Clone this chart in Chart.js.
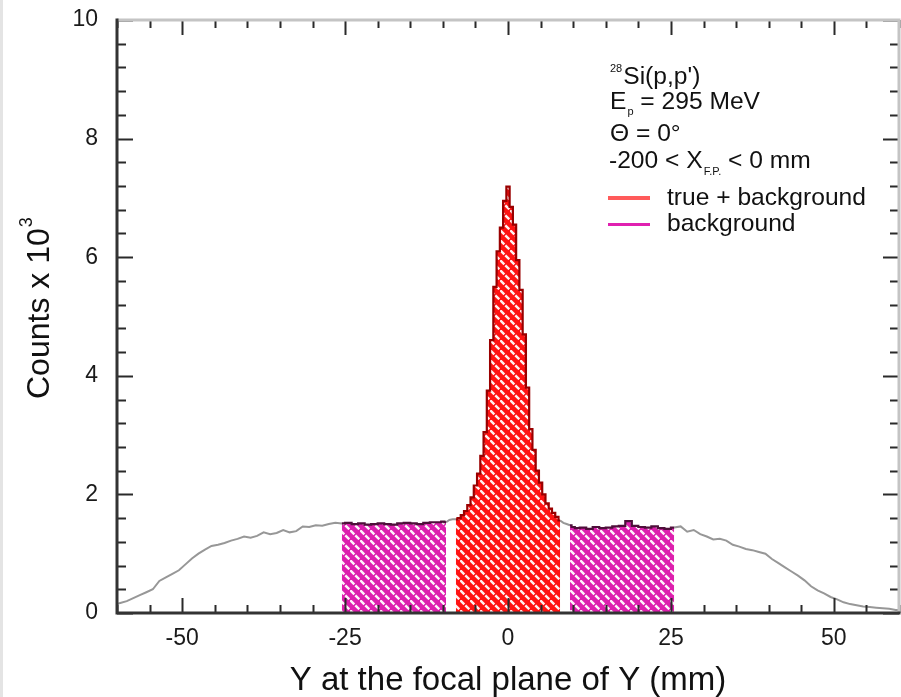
<!DOCTYPE html>
<html>
<head>
<meta charset="utf-8">
<script src="https://cdn.jsdelivr.net/npm/chart.js@4.4.1/dist/chart.umd.min.js"></script>
<style>
html,body{margin:0;padding:0;background:#fff;}
canvas{display:block;}
</style>
</head>
<body>
<canvas id="c" width="901" height="697"></canvas>
<script>
// ---- data (counts in units of 10^3) ----
const leftWingY = [-60,-59.5,-58.5,-57.5,-56.5,-55.5,-54.5,-53.5,-52.5,-51.5,-50.5,-49.5,-48.5,-47.5,-46.5,-45.5,-44.5,-43.5,-42.5,-41.5,-40.5,-39.5,-38.5,-37.5,-36.5,-35.5,-34.5,-33.5,-32.5,-31.5,-30.5,-29.5,-28.5,-27.5,-26.5,-25.5,-24.5,-23.5,-22.5,-21.5,-20.5,-19.5,-18.5,-17.5,-16.5,-15.5,-14.5,-13.5,-12.5,-11.5,-10.5];
const leftWingCounts = [0.15,0.17,0.20,0.25,0.30,0.35,0.40,0.54,0.60,0.66,0.72,0.82,0.92,1.00,1.07,1.13,1.15,1.18,1.22,1.25,1.29,1.27,1.30,1.36,1.33,1.35,1.40,1.36,1.38,1.46,1.45,1.48,1.47,1.50,1.52,1.51,1.52,1.50,1.51,1.49,1.50,1.51,1.50,1.49,1.51,1.52,1.51,1.50,1.52,1.53,1.53];
const coreY = [-10,-9.5,-9,-8.5,-8,-7.5,-7,-6.5,-6,-5.5,-5,-4.5,-4,-3.5,-3,-2.5,-2,-1.5,-1,-0.5,0,0.5,1,1.5,2,2.5,3,3.5,4,4.5,5,5.5,6,6.5,7,7.5,8,8.5,9,9.5,10];
const coreCounts = [1.54,1.53,1.57,1.58,1.58,1.60,1.65,1.72,1.82,1.95,2.15,2.35,2.65,3.05,3.75,4.6,5.5,6.1,6.5,6.95,7.19,6.85,6.55,5.95,5.45,4.7,3.8,3.1,2.75,2.4,2.2,2.0,1.85,1.76,1.69,1.62,1.56,1.52,1.50,1.48,1.45];
const rightWingY = [10.5,11.5,12.5,13.5,14.5,15.5,16.5,17.5,18.5,19.5,20.5,21.5,22.5,23.5,24.5,25.5,26.5,27.5,28.5,29.5,30.5,31.5,32.5,33.5,34.5,35.5,36.5,37.5,38.5,39.5,40.5,41.5,42.5,43.5,44.5,45.5,46.5,47.5,48.5,49.5,50.5,51.5,52.5,53.5,54.5,55.5,56.5,57.5,58.5,59.5,60];
const rightWingCounts = [1.43,1.44,1.42,1.45,1.43,1.44,1.46,1.47,1.55,1.47,1.45,1.44,1.46,1.43,1.42,1.44,1.46,1.37,1.40,1.33,1.29,1.24,1.25,1.22,1.15,1.12,1.08,1.06,1.03,1.00,0.91,0.84,0.77,0.70,0.63,0.55,0.45,0.38,0.33,0.27,0.23,0.18,0.15,0.13,0.11,0.10,0.09,0.08,0.07,0.05,0.05];

const bgLeftRange = [-25.5, -9.5];
const peakRange = [-8, 8];
const bgRightRange = [9.5, 25.5];

const xTickValues = [-50, -25, 0, 25, 50];
const yTickValues = [0, 2, 4, 6, 8, 10];
const xMinorStep = 5;
const yMinorStep = 0.4;

const xTitle = 'Y at the focal plane of Y (mm)';
const yTitle = 'Counts x 10';
const yTitleSup = '3';
const legendLabels = ['true + background', 'background'];

// ---- build ----
const FONT = '"Liberation Sans", Arial, Helvetica, sans-serif';
const allY = leftWingY.concat(coreY, rightWingY);
const allC = leftWingCounts.concat(coreCounts, rightWingCounts);
const spectrum = allY.map((y, i) => ({x: y, y: allC[i]}));
const filledRanges = [bgLeftRange, peakRange, bgRightRange];
function inRange(v, r) { return v >= r[0] - 1e-9 && v <= r[1] + 1e-9; }
function slice(r) { return spectrum.filter(p => inRange(p.x, r)); }

function makePattern(base) {
  const c = document.createElement('canvas');
  c.width = 10; c.height = 10;
  const g = c.getContext('2d');
  g.fillStyle = base; g.fillRect(0, 0, 10, 10);
  g.strokeStyle = 'rgba(255,255,255,0.95)';
  g.lineWidth = 2.4;
  g.lineCap = 'butt';
  g.beginPath();
  g.moveTo(0.3, 0.3); g.lineTo(4.3, 4.3);
  g.moveTo(5.3, 5.3); g.lineTo(9.3, 9.3);
  g.stroke();
  return g.createPattern(c, 'repeat');
}
const ctx0 = document.getElementById('c').getContext('2d');
const redPattern = makePattern('#ff1414');
const pinkPattern = makePattern('#dd1fae');

const framePlugin = {
  id: 'frame',
  beforeDraw(chart) {
    const c = chart.ctx;
    c.save();
    c.fillStyle = '#e4e4e4';
    c.fillRect(0, 0, 3, chart.height);
    c.restore();
  },
  afterDraw(chart) {
    const c = chart.ctx;
    const {left, right, top, bottom} = chart.chartArea;
    const xs = chart.scales.x, ys = chart.scales.y;
    c.save();
    c.strokeStyle = '#2a2a2a';
    c.lineWidth = 2;
    const nx = Math.round((xs.max - xs.min) / xMinorStep);
    for (let i = 0; i <= nx; i++) {
      const v = xs.min + i * xMinorStep;
      const px = Math.round(xs.getPixelForValue(v)) + 0.5;
      const major = xTickValues.some(t => Math.abs(t - v) < 1e-6);
      const len = major ? 15 : 8;
      c.beginPath();
      c.moveTo(px, bottom); c.lineTo(px, bottom - len);
      c.moveTo(px, top); c.lineTo(px, top + len);
      c.stroke();
    }
    const ny = Math.round((ys.max - ys.min) / yMinorStep);
    for (let i = 0; i <= ny; i++) {
      const v = ys.min + i * yMinorStep;
      const py = Math.round(ys.getPixelForValue(v)) + 0.5;
      const major = yTickValues.some(t => Math.abs(t - v) < 1e-6);
      const len = major ? 16 : 9;
      c.beginPath();
      c.moveTo(left, py); c.lineTo(left + len, py);
      c.moveTo(right, py); c.lineTo(right - len, py);
      c.stroke();
    }
    c.lineWidth = 3;
    c.strokeStyle = '#c4c4c4';
    c.beginPath(); c.moveTo(left, top); c.lineTo(right, top); c.lineTo(right, bottom); c.stroke();
    c.strokeStyle = '#333';
    c.beginPath(); c.moveTo(left, top - 1.5); c.lineTo(left, bottom); c.lineTo(right + 1.5, bottom); c.stroke();

    // y title (rotated, with superscript)
    c.fillStyle = '#111';
    c.save();
    c.translate(49, 399);
    c.rotate(-Math.PI / 2);
    c.font = '32px ' + FONT;
    c.textBaseline = 'alphabetic';
    c.fillText(yTitle, 0, 0);
    const w = c.measureText(yTitle).width;
    c.font = '18px ' + FONT;
    c.fillText(yTitleSup, w + 1, -17);
    c.restore();

    // annotation block
    const x0 = 610;
    c.textBaseline = 'alphabetic';
    const big = '24.6px ' + FONT, small = '11px ' + FONT;
    let x;
    c.font = small; c.fillText('28', x0, 72);
    x = x0 + c.measureText('28').width + 1;
    c.font = big; c.fillText("Si(p,p')", x, 84);
    c.font = big; c.fillText('E', x0, 109);
    x = x0 + c.measureText('E').width + 1;
    c.font = small; c.fillText('p', x, 115);
    x += c.measureText('p').width;
    c.font = big; c.fillText(' = 295 MeV', x, 109);
    c.fillText('\u0398 = 0\u00b0', x0, 141);
    c.fillText('-200 < X', x0 - 1, 168);
    x = x0 - 1 + c.measureText('-200 < X').width + 1;
    c.font = small; c.fillText('F.P.', x, 175);
    x += c.measureText('F.P.').width;
    c.font = big; c.fillText(' < 0 mm', x, 168);
    c.lineWidth = 4; c.strokeStyle = '#ff5a5a';
    c.beginPath(); c.moveTo(608, 198); c.lineTo(650, 198); c.stroke();
    c.lineWidth = 3; c.strokeStyle = '#e020b0';
    c.beginPath(); c.moveTo(608, 224.5); c.lineTo(650, 224.5); c.stroke();
    c.font = big;
    c.fillText(legendLabels[0], 667, 205);
    c.fillText(legendLabels[1], 667, 231);
    c.restore();
  }
};

const GRAY = '#979797';
new Chart(ctx0, {
  type: 'line',
  data: {
    datasets: [
      {label: legendLabels[0], data: slice(peakRange), stepped: 'middle', borderColor: '#9a0000', borderWidth: 2.2, backgroundColor: redPattern, fill: 'origin', pointRadius: 0},
      {label: legendLabels[1], data: slice(bgLeftRange), stepped: 'middle', borderColor: '#4e0f3a', borderWidth: 2.2, backgroundColor: pinkPattern, fill: 'origin', pointRadius: 0},
      {label: legendLabels[1], data: slice(bgRightRange), stepped: 'middle', borderColor: '#4e0f3a', borderWidth: 2.2, backgroundColor: pinkPattern, fill: 'origin', pointRadius: 0},
      {label: 'spectrum', data: spectrum, stepped: false, tension: 0, borderColor: GRAY, borderWidth: 2, fill: false, pointRadius: 0,
       segment: {borderColor: s => filledRanges.some(r => inRange(s.p0.parsed.x, r) && inRange(s.p1.parsed.x, r)) ? 'rgba(0,0,0,0)' : GRAY}}
    ]
  },
  options: {
    responsive: false,
    animation: false,
    layout: {padding: {left: 0, right: 2, top: 20, bottom: 0}},
    plugins: {legend: {display: false}, tooltip: {enabled: false}},
    scales: {
      x: {
        type: 'linear', min: -60, max: 60,
        afterBuildTicks: s => { s.ticks = xTickValues.map(v => ({value: v})); },
        afterFit: s => { s.height = 84; s.paddingLeft = 0; s.paddingRight = 0; },
        grid: {display: false, drawTicks: false},
        border: {display: false},
        ticks: {color: '#1a1a1a', padding: 12, font: {family: FONT, size: 23}, callback: v => String(v), maxRotation: 0},
        title: {display: true, text: xTitle, color: '#111', font: {family: FONT, size: 33, lineHeight: 1}, padding: {top: 0, bottom: 0}}
      },
      y: {
        type: 'linear', min: 0, max: 10,
        afterBuildTicks: s => { s.ticks = yTickValues.map(v => ({value: v})); },
        afterFit: s => { s.width = 117; s.paddingTop = 0; s.paddingBottom = 0; },
        grid: {display: false, drawTicks: false},
        border: {display: false},
        ticks: {color: '#1a1a1a', padding: 19, font: {family: FONT, size: 23}, callback: v => String(v)}
      }
    }
  },
  plugins: [framePlugin]
});
</script>
</body>
</html>
